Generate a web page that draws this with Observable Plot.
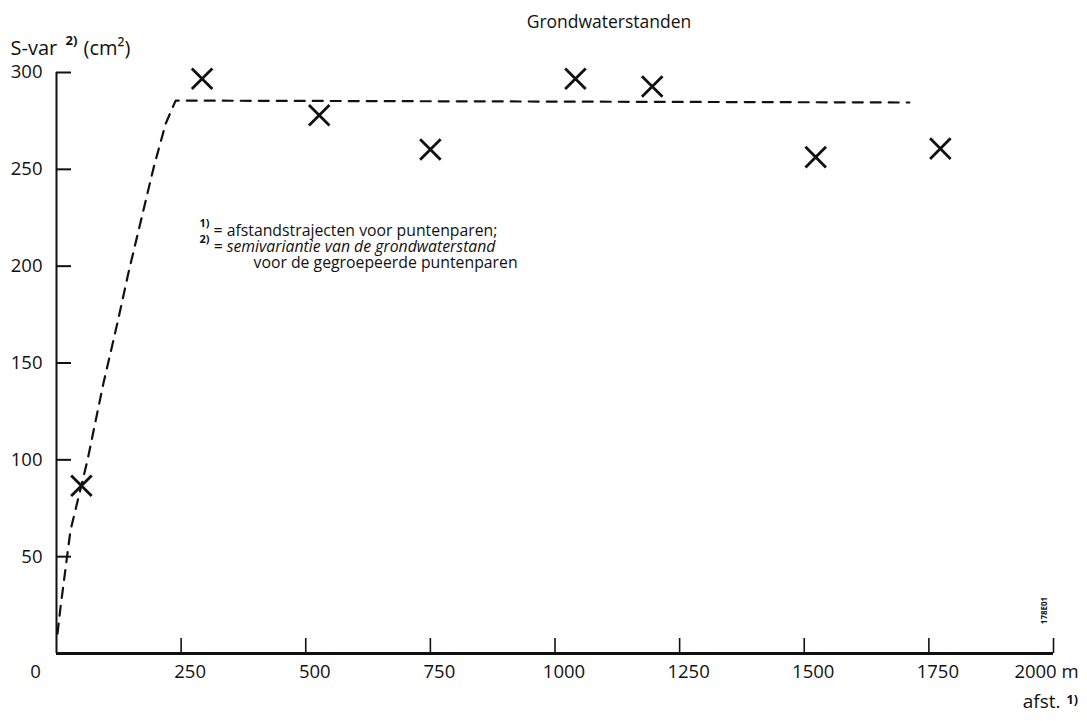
<!DOCTYPE html>
<html>
<head>
<meta charset="utf-8">
<script src="https://cdn.jsdelivr.net/npm/d3@7"></script>
<script src="https://cdn.jsdelivr.net/npm/@observablehq/plot@0.6"></script>
<style>
  body { margin: 0; background: #fff; }
  #chart svg { display: block; }
</style>
</head>
<body>
<div id="chart"></div>
<script>
// Observed semivariances (grouped point pairs)
const distances = [50, 292, 527, 750, 1041, 1195, 1523, 1773];
const semivar   = [86.6, 296.8, 277.9, 260.2, 296.8, 292.8, 256.3, 260.7];

// Fitted model curve (dashed), traced
const modelDist = [2, 8, 28, 62, 94, 122, 144, 168, 195, 219, 239, 1711];
const modelVar  = [10.3, 23.7, 63.5, 99.6, 139.4, 170.4, 196.2, 222, 251, 273.6, 285.5, 284.5];

// Axis ticks
const xTicks = [250, 500, 750, 1000, 1250, 1500, 1750, 2000];
const xLabelTicks = [250, 500, 750, 1000, 1250, 1500, 1750];
const yTicks = [50, 100, 150, 200, 250, 300];

// Texts
const title = "Grondwaterstanden";
const yLabelMain = "S-var";
const yLabelSup = "2)";
const yLabelUnit = "(cm\u00B2)";
const xLabelMain = "afst.";
const xLabelSup = "1)";
const note1Sup = "1)";
const note1 = "= afstandstrajecten voor puntenparen;";
const note2Sup = "2)";
const note2 = "= semivariantie van de grondwaterstand";
const note3 = "voor de gegroepeerde puntenparen";
const code = "178E01";

const points = distances.map((d, i) => ({d, v: semivar[i]}));
const model = modelDist.map((d, i) => ({d, v: modelVar[i]}));

const font = "'Open Sans', 'DejaVu Sans', sans-serif";
const ink = "#111";

const W = 1087, H = 721, ML = 56, MR = 34, MT = 72, MB = 68;
const frameW = W - ML - MR, frameH = H - MT - MB;
const tickLen = 15;

const chart = Plot.plot({
  width: W,
  height: H,
  marginLeft: ML,
  marginRight: MR,
  marginTop: MT,
  marginBottom: MB,
  style: {fontFamily: font, fontSize: "18px", color: ink, background: "#fff"},
  x: {domain: [0, 2000]},
  y: {domain: [0, 300]},
  marks: [
    // axis lines
    Plot.ruleX([0], {stroke: ink, strokeWidth: 2}),
    Plot.ruleY([0], {stroke: ink, strokeWidth: 3}),
    // inward ticks
    Plot.tickY(yTicks, {y: d => d, stroke: ink, strokeWidth: 2, insetRight: frameW - tickLen}),
    Plot.tickX(xTicks, {x: d => d, stroke: ink, strokeWidth: 1.6, insetTop: frameH - tickLen}),
    // tick labels
    Plot.axisY({ticks: yTicks, tickSize: 0, tickPadding: 14, fontSize: 18.5, label: null, tickFormat: d => String(d)}),
    Plot.axisX({ticks: xLabelTicks, tickSize: 0, tickPadding: 11, dx: 9, fontSize: 18.5, label: null, tickFormat: d => String(d)}),
    Plot.axisX({ticks: [2000], tickSize: 0, tickPadding: 11, dx: -7, fontSize: 18.5, label: null,
      tickFormat: d => d + " m"}),
    Plot.axisX({ticks: [0], tickSize: 0, tickPadding: 11, dx: -21, fontSize: 18.5, label: null, tickFormat: d => String(d)}),
    // model curve
    Plot.line(model, {x: "d", y: "v", stroke: ink, strokeWidth: 2.2, strokeDasharray: "10,8"}),
    // observations
    Plot.dot(points, {x: "d", y: "v", symbol: "times", r: 9.4, stroke: ink, strokeWidth: 2.8}),
    // title & axis labels
    Plot.text([title], {frameAnchor: "top", dx: 54, dy: -57, fontSize: 17.5, textAnchor: "middle"}),
    Plot.text([yLabelMain], {frameAnchor: "top-left", dx: -46, dy: -32, fontSize: 20, textAnchor: "start"}),
    Plot.text([yLabelSup], {frameAnchor: "top-left", dx: 9, dy: -37, fontSize: 13, fontWeight: "bold", textAnchor: "start"}),
    Plot.text([yLabelUnit], {frameAnchor: "top-left", dx: 27, dy: -32, fontSize: 20, textAnchor: "start"}),
    Plot.text([xLabelMain], {frameAnchor: "bottom-right", dx: 7, dy: 54, fontSize: 19, textAnchor: "end"}),
    Plot.text([xLabelSup], {frameAnchor: "bottom-right", dx: 13, dy: 50, fontSize: 12.5, fontWeight: "bold", textAnchor: "start"}),
    Plot.text([code], {frameAnchor: "bottom-right", dx: -7, dy: -43, fontSize: 8, fontWeight: "bold", rotate: -90, textAnchor: "middle"}),
    // notes
    Plot.text([note1Sup], {frameAnchor: "top-left", dx: 143, dy: 147, fontSize: 11, fontWeight: "bold", textAnchor: "start"}),
    Plot.text([note1], {frameAnchor: "top-left", dx: 157, dy: 152, fontSize: 15.8, textAnchor: "start"}),
    Plot.text([note2Sup], {frameAnchor: "top-left", dx: 143, dy: 163, fontSize: 11, fontWeight: "bold", textAnchor: "start"}),
    Plot.text([note2], {frameAnchor: "top-left", dx: 157, dy: 168, fontSize: 15.8, fontStyle: "italic", textAnchor: "start"}),
    Plot.text([note3], {frameAnchor: "top-left", dx: 197, dy: 184, fontSize: 15.8, textAnchor: "start"})
  ]
});
document.getElementById("chart").append(chart);
</script>
</body>
</html>
